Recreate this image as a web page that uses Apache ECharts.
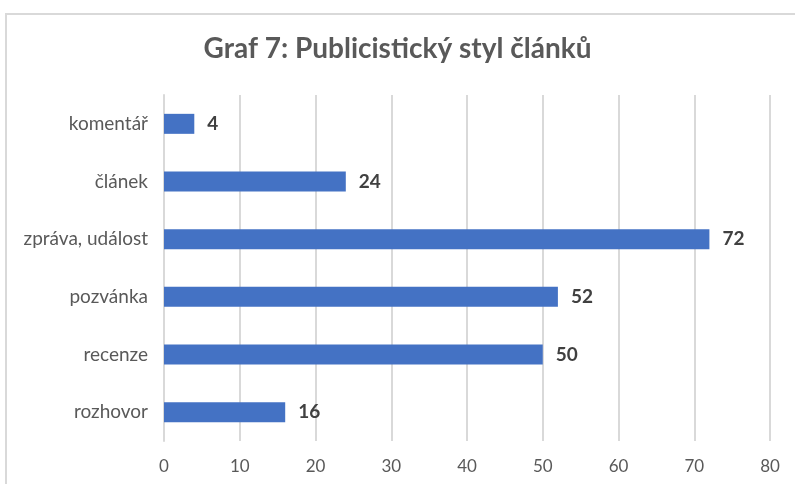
<!DOCTYPE html>
<html>
<head>
<meta charset="utf-8">
<script src="https://cdn.jsdelivr.net/npm/echarts@6/dist/echarts.min.js"></script>
<style>
  html, body { margin: 0; padding: 0; background: #fff; }
  #main { width: 795px; height: 484px; }
</style>
</head>
<body>
<div id="main"></div>
<script>
// data, listed bottom to top as the category axis draws them
var categories = ['rozhovor', 'recenze', 'pozvánka', 'zpráva, událost', 'článek', 'komentář'];
var counts = [16, 50, 52, 72, 24, 4];

var chart = echarts.init(document.getElementById('main'));
chart.setOption({
  backgroundColor: '#fff',
  animation: false,
  textStyle: { fontFamily: 'Lato' },
  graphic: [{
    type: 'rect',
    shape: { x: 6, y: 14, width: 800, height: 480 },
    style: { fill: 'none', stroke: '#d9d9d9', lineWidth: 2 }
  }],
  title: {
    text: 'Graf 7: Publicistický styl článků',
    left: 'center',
    top: 30,
    textStyle: { color: '#595959', fontSize: 28, fontWeight: 'bold', fontFamily: 'Lato' }
  },
  grid: { left: 164, right: 25, top: 95, bottom: 43 },
  xAxis: {
    type: 'value',
    min: 0,
    max: 80,
    interval: 10,
    axisLine: { show: false },
    axisTick: { show: false },
    axisLabel: { color: '#595959', fontSize: 17, margin: 17 },
    splitLine: { lineStyle: { color: '#d9d9d9', width: 2 } }
  },
  yAxis: {
    type: 'category',
    data: categories,
    axisLine: { lineStyle: { color: '#d9d9d9', width: 2 } },
    axisTick: { show: false },
    axisLabel: { color: '#595959', fontSize: 19, margin: 16 }
  },
  series: [{
    type: 'bar',
    data: counts,
    barWidth: 20,
    itemStyle: { color: '#4472c4' },
    label: {
      show: true,
      position: 'right',
      distance: 13,
      color: '#404040',
      fontSize: 19,
      fontWeight: 'bold'
    }
  }]
});
</script>
</body>
</html>
